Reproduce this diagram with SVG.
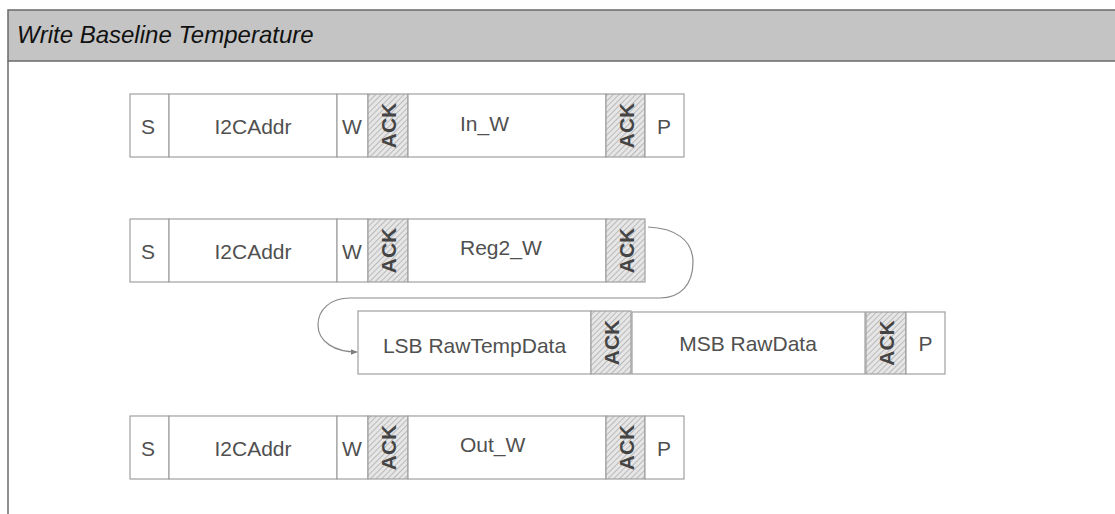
<svg xmlns="http://www.w3.org/2000/svg" width="1115" height="514" viewBox="0 0 1115 514">
<defs>
<pattern id="hatch" patternUnits="userSpaceOnUse" width="4" height="4" patternTransform="rotate(45)">
<rect width="4" height="4" fill="#e6e6e6"/>
<line x1="0" y1="0" x2="0" y2="4" stroke="#a8a8a8" stroke-width="1.4"/>
</pattern>
<marker id="arr" viewBox="0 0 10 10" refX="9" refY="5" markerWidth="7" markerHeight="7" orient="auto" markerUnits="userSpaceOnUse">
<path d="M0,1 L10,5 L0,9 z" fill="#7f7f7f"/>
</marker>
</defs>
<style>
.cell{fill:#ffffff;stroke:#a0a0a0;stroke-width:1.2}
.ack{fill:url(#hatch);stroke:#a0a0a0;stroke-width:1.2}
.t{font-family:"Liberation Sans",Arial,sans-serif;font-size:21px;fill:#505050;text-anchor:middle}
.tl{font-family:"Liberation Sans",Arial,sans-serif;font-size:21px;fill:#505050}
.a{font-family:"Liberation Sans",Arial,sans-serif;font-size:21px;font-weight:bold;fill:#444444;text-anchor:middle}
.title{font-family:"Liberation Sans",Arial,sans-serif;font-size:24px;font-style:italic;fill:#111111}
.conn{fill:none;stroke:#8a8a8a;stroke-width:1.2}
</style>
<rect x="0" y="0" width="1115" height="514" fill="#ffffff"/>
<g id="header">
<rect x="8" y="10" width="1110" height="51" fill="#c4c4c4" stroke="#6a6a6a" stroke-width="1.5"/>
<line x1="8" y1="61" x2="8" y2="514" stroke="#6a6a6a" stroke-width="1.5"/>
<text class="title" x="17" y="43">Write Baseline Temperature</text>
</g>
<g id="row1">
<rect class="cell" x="130" y="94" width="39" height="63"/>
<text class="t" x="148" y="134">S</text>
<rect class="cell" x="169" y="94" width="168" height="63"/>
<text class="t" x="253" y="134">I2CAddr</text>
<rect class="cell" x="337" y="94" width="31" height="63"/>
<text class="t" x="352" y="134">W</text>
<rect class="ack" x="368" y="94" width="40" height="63"/>
<text class="a" transform="translate(395.5,125.5) rotate(-90)">ACK</text>
<rect class="cell" x="408" y="94" width="198" height="63"/>
<text class="tl" x="460" y="131">In_W</text>
<rect class="ack" x="606" y="94" width="39" height="63"/>
<text class="a" transform="translate(633.5,125.5) rotate(-90)">ACK</text>
<rect class="cell" x="645" y="94" width="39" height="63"/>
<text class="t" x="664" y="134">P</text>
</g>
<g id="row2">
<rect class="cell" x="130" y="219" width="39" height="63"/>
<text class="t" x="148" y="259">S</text>
<rect class="cell" x="169" y="219" width="168" height="63"/>
<text class="t" x="253" y="259">I2CAddr</text>
<rect class="cell" x="337" y="219" width="31" height="63"/>
<text class="t" x="352" y="259">W</text>
<rect class="ack" x="368" y="219" width="40" height="63"/>
<text class="a" transform="translate(395.5,250.5) rotate(-90)">ACK</text>
<rect class="cell" x="408" y="219" width="198" height="63"/>
<text class="tl" x="460" y="255">Reg2_W</text>
<rect class="ack" x="606" y="219" width="39" height="63"/>
<text class="a" transform="translate(633.5,250.5) rotate(-90)">ACK</text>
</g>
<g id="row3">
<rect class="cell" x="358" y="311" width="233" height="63"/>
<text class="t" x="474.5" y="353">LSB RawTempData</text>
<rect class="ack" x="591" y="311" width="40" height="63"/>
<text class="a" transform="translate(618.5,342.5) rotate(-90)">ACK</text>
<rect class="cell" x="632" y="312" width="233" height="62"/>
<text class="t" x="748" y="351">MSB RawData</text>
<rect class="ack" x="866" y="312" width="40" height="62"/>
<text class="a" transform="translate(893.5,343) rotate(-90)">ACK</text>
<rect class="cell" x="906" y="312" width="39" height="62"/>
<text class="t" x="925.5" y="351">P</text>
</g>
<g id="row4">
<rect class="cell" x="130" y="416" width="39" height="63"/>
<text class="t" x="148" y="456">S</text>
<rect class="cell" x="169" y="416" width="168" height="63"/>
<text class="t" x="253" y="456">I2CAddr</text>
<rect class="cell" x="337" y="416" width="31" height="63"/>
<text class="t" x="352" y="456">W</text>
<rect class="ack" x="368" y="416" width="40" height="63"/>
<text class="a" transform="translate(395.5,447.5) rotate(-90)">ACK</text>
<rect class="cell" x="408" y="416" width="198" height="63"/>
<text class="tl" x="460" y="452">Out_W</text>
<rect class="ack" x="606" y="416" width="39" height="63"/>
<text class="a" transform="translate(633.5,447.5) rotate(-90)">ACK</text>
<rect class="cell" x="645" y="416" width="39" height="63"/>
<text class="t" x="664" y="456">P</text>
</g>
<g id="connectors">
<path class="conn" marker-end="url(#arr)" d="M648,227 C675,228 693,240 693,262 C693,285 680,298 660,298 L350,298 C330,298 318,310 318,325 C318,342 335,352 357,352"/>
</g>
</svg>
